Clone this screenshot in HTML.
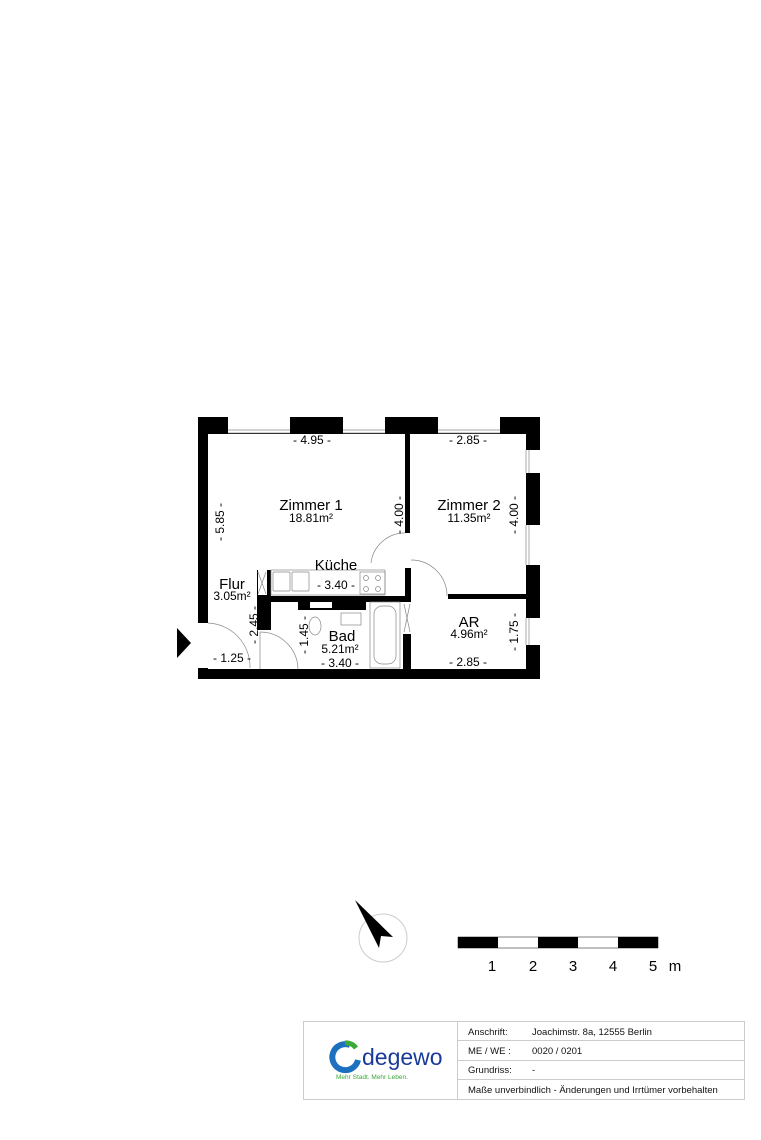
<!DOCTYPE html>
<html><head><meta charset="utf-8"><style>
body{margin:0;background:#fff;}
svg{display:block;font-family:"Liberation Sans",sans-serif;}
</style></head><body>
<svg width="761" height="1140" viewBox="0 0 761 1140" xmlns="http://www.w3.org/2000/svg">
<!-- outer walls -->
<g fill="#000">
<rect x="198" y="417" width="342" height="17"/>
<rect x="198" y="417" width="10" height="262"/>
<rect x="526" y="417" width="14" height="262"/>
<rect x="198" y="669" width="342" height="10"/>
<!-- interior -->
<rect x="405" y="433" width="5" height="100"/>
<rect x="405" y="568" width="6" height="30"/>
<rect x="403" y="598" width="8" height="72"/>
<rect x="448" y="594" width="78" height="5"/>
<rect x="258" y="596" width="147" height="6"/>
<rect x="298" y="596" width="68" height="14"/>
<rect x="257" y="570" width="14" height="60"/>
</g>
<!-- openings -->
<g fill="#fff">
<rect x="228" y="417" width="62" height="16"/>
<rect x="343" y="417" width="42" height="16"/>
<rect x="438" y="417" width="62" height="16"/>
<rect x="526" y="450" width="14" height="23"/>
<rect x="526" y="525" width="14" height="40"/>
<rect x="526" y="618" width="14" height="27"/>
<rect x="198" y="623" width="10" height="45"/>
<rect x="258" y="570" width="9" height="25"/>
<rect x="403" y="602" width="8" height="32"/>
<rect x="310" y="602" width="22" height="6"/>
</g>
<g stroke="#888" stroke-width="0.7" fill="none">
<line x1="228" y1="430" x2="290" y2="430"/><line x1="228" y1="433" x2="290" y2="433"/>
<line x1="343" y1="430" x2="385" y2="430"/><line x1="343" y1="433" x2="385" y2="433"/>
<line x1="438" y1="430" x2="500" y2="430"/><line x1="438" y1="433" x2="500" y2="433"/>
<line x1="529" y1="450" x2="529" y2="473"/><line x1="526" y1="450" x2="526" y2="473"/>
<line x1="529" y1="525" x2="529" y2="565"/><line x1="526" y1="525" x2="526" y2="565"/>
<line x1="529" y1="618" x2="529" y2="645"/><line x1="526" y1="618" x2="526" y2="645"/>
<!-- doors -->
<path d="M371 563 A34 34 0 0 1 405 533"/>
<path d="M411 560 A36 36 0 0 1 447 596"/>
<path d="M208 623 A44 44 0 0 1 250 668"/>
<path d="M260 632 A38 38 0 0 1 298 669"/>
<line x1="260" y1="632" x2="260" y2="669"/>
<line x1="258" y1="572" x2="266" y2="594"/><line x1="266" y1="572" x2="258" y2="594"/>
<line x1="404" y1="604" x2="410" y2="632"/><line x1="410" y1="604" x2="404" y2="632"/>
<!-- kitchen -->
<rect x="271" y="570" width="114" height="25"/>
<rect x="273" y="572" width="17" height="19" rx="1"/>
<rect x="292" y="572" width="17" height="19" rx="1"/>
<rect x="360" y="572" width="25" height="22"/>
<circle cx="366" cy="578" r="2.5"/><circle cx="378" cy="578" r="2.5"/>
<circle cx="366" cy="589" r="2.5"/><circle cx="378" cy="589" r="2.5"/>
<!-- bath -->
<rect x="370" y="602" width="30" height="66"/>
<rect x="374" y="606" width="22" height="58" rx="8"/>
<ellipse cx="315" cy="626" rx="6" ry="9"/>
<rect x="341" y="613" width="20" height="12"/>
</g>
<!-- entrance arrow -->
<polygon points="177,628 191,643 177,658" fill="#000"/>
<!-- labels -->
<g font-size="12" text-anchor="middle" fill="#000">
<text x="312" y="444">- 4.95 -</text>
<text x="468" y="444">- 2.85 -</text>
<text x="311" y="510" font-size="15">Zimmer 1</text>
<text x="311" y="522">18.81m²</text>
<text x="469" y="510" font-size="15">Zimmer 2</text>
<text x="469" y="522">11.35m²</text>
<text x="336" y="570" font-size="15">Küche</text>
<text x="336" y="589">- 3.40 -</text>
<text x="232" y="589" font-size="15">Flur</text>
<text x="232" y="600">3.05m²</text>
<text x="342" y="641" font-size="15">Bad</text>
<text x="340" y="653">5.21m²</text>
<text x="340" y="667">- 3.40 -</text>
<text x="469" y="627" font-size="15">AR</text>
<text x="469" y="638">4.96m²</text>
<text x="232" y="662">- 1.25 -</text>
<text x="468" y="666">- 2.85 -</text>
<text transform="translate(224,522) rotate(-90)">- 5.85 -</text>
<text transform="translate(403,515) rotate(-90)">- 4.00 -</text>
<text transform="translate(518,515) rotate(-90)">- 4.00 -</text>
<text transform="translate(258,625) rotate(-90)">- 2.45 -</text>
<text transform="translate(308,635) rotate(-90)">- 1.45 -</text>
<text transform="translate(518,632) rotate(-90)">- 1.75 -</text>
</g>
<!-- compass -->
<circle cx="383" cy="938" r="24" fill="none" stroke="#ccc" stroke-width="1"/>
<polygon points="355,900 393,937 381,936 379,948" fill="#000"/>
<!-- scale -->
<rect x="458" y="937" width="200" height="11" fill="#fff" stroke="#000" stroke-width="0.5"/>
<rect x="458" y="937" width="40" height="11" fill="#000"/>
<rect x="538" y="937" width="40" height="11" fill="#000"/>
<rect x="618" y="937" width="40" height="11" fill="#000"/>
<g font-size="15" text-anchor="middle">
<text x="492" y="971">1</text><text x="533" y="971">2</text><text x="573" y="971">3</text><text x="613" y="971">4</text><text x="653" y="971">5</text><text x="675" y="971">m</text>
</g>
<!-- table -->
<g stroke="#ccc" stroke-width="1" fill="none">
<rect x="303.5" y="1021.5" width="441" height="78"/>
<line x1="457.5" y1="1021" x2="457.5" y2="1100"/>
<line x1="457" y1="1040.5" x2="745" y2="1040.5"/>
<line x1="457" y1="1060.5" x2="745" y2="1060.5"/>
<line x1="457" y1="1079.5" x2="745" y2="1079.5"/>
</g>
<g font-size="9.5" fill="#111">
<text x="468" y="1035">Anschrift:</text><text x="532" y="1035">Joachimstr. 8a, 12555 Berlin</text>
<text x="468" y="1054">ME / WE :</text><text x="532" y="1054">0020 / 0201</text>
<text x="468" y="1073">Grundriss:</text><text x="532" y="1073">-</text>
<text x="468" y="1093">Maße unverbindlich - Änderungen und Irrtümer vorbehalten</text>
</g>
<!-- logo -->
<path d="M350 1045 A13 13 0 1 0 358 1060" fill="none" stroke="#1d6fc0" stroke-width="6"/>
<path d="M345 1043 A12 12 0 0 1 356 1048" fill="none" stroke="#3aa935" stroke-width="5"/>
<text x="362" y="1065" font-size="23" fill="#1a3a9a">degewo</text>
<text x="336" y="1079" font-size="6.5" fill="#3aa935">Mehr Stadt. Mehr Leben.</text>
</svg>
</body></html>
